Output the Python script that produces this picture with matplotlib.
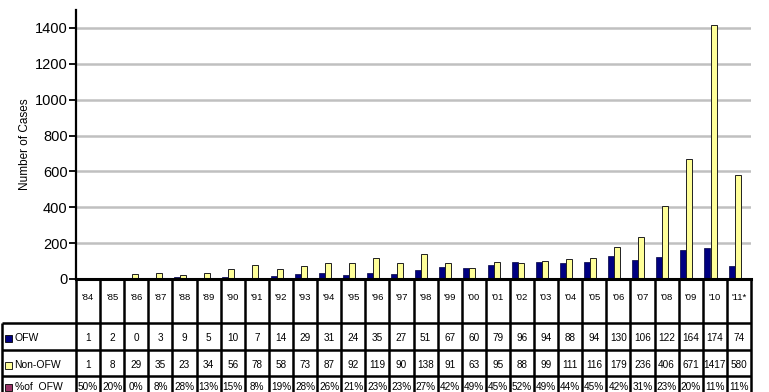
import numpy as np
import matplotlib.pyplot as plt

# cases per year
years = ["'84", "'85", "'86", "'87", "'88", "'89", "'90", "'91", "'92", "'93",
         "'94", "'95", "'96", "'97", "'98", "'99", "'00", "'01", "'02", "'03",
         "'04", "'05", "'06", "'07", "'08", "'09", "'10", "'11*"]
ofw = [1, 2, 0, 3, 9, 5, 10, 7, 14, 29, 31, 24, 35, 27, 51, 67, 60, 79, 96,
       94, 88, 94, 130, 106, 122, 164, 174, 74]
non_ofw = [1, 8, 29, 35, 23, 34, 56, 78, 58, 73, 87, 92, 119, 90, 138, 91,
           63, 95, 88, 99, 111, 116, 179, 236, 406, 671, 1417, 580]
pct_ofw = ["50%", "20%", "0%", "8%", "28%", "13%", "15%", "8%", "19%", "28%",
           "26%", "21%", "23%", "23%", "27%", "42%", "49%", "45%", "52%",
           "49%", "44%", "45%", "42%", "31%", "23%", "20%", "11%", "11%"]

row_names = ["OFW", "Non-OFW", "%of  OFW"]
row_colors = ["#000080", "#FFFF99", "#993366"]

plt.rcParams['font.family'] = ['Liberation Sans', 'DejaVu Sans']

W, H = 769, 392
fig = plt.figure(figsize=(W / 100, H / 100), dpi=100)

x0, x1 = 76, 751     # plot left / right (px)
y_top, y_zero = 10, 279


def fx(px):
    return px / W


def fy(py):
    return 1 - py / H


ax = fig.add_axes([fx(x0), fy(y_zero), fx(x1) - fx(x0), fy(y_top) - fy(y_zero)])
x = np.arange(len(years))
bw = 0.25
shift = -0.18
ax.bar(x + shift - bw / 2, ofw, bw, color=row_colors[0], edgecolor='#000040', lw=0.5, zorder=3)
ax.bar(x + shift + bw / 2, non_ofw, bw, color=row_colors[1], edgecolor='#202020', lw=0.7, zorder=3)

ax.set_xlim(-0.5, len(years) - 0.5)
ax.set_ylim(0, 1500)
ax.set_yticks(range(0, 1401, 200))
ax.tick_params(axis='y', labelsize=10.5, length=5, width=1.3, pad=1)
ax.set_xticks([])
ax.yaxis.grid(True, color='#c0c0c0', lw=1.8, zorder=0)
for s in ['top', 'right']:
    ax.spines[s].set_visible(False)
ax.spines['left'].set_linewidth(1.6)
ax.spines['bottom'].set_linewidth(2.2)
ax.spines['bottom'].set_zorder(5)
ax.set_ylabel('Number of Cases', fontsize=8.5, labelpad=3)

# data table under the chart, in pixel rows below the zero line
tax = fig.add_axes([fx(x0), 0, fx(x1) - fx(x0), fy(y_zero)])
tax.set_xlim(-0.5, len(years) - 0.5)
tax.set_ylim(H - y_zero, 0)
tax.axis('off')

rows_y = [44, 71, 97, 125]   # horizontal rule positions (px below zero line)
left = -0.5 - (x0 - 2) / ((x1 - x0) / len(years))
lw = 1.8
kw = dict(color='black', lw=lw, clip_on=False, solid_capstyle='butt')
for yy in rows_y:
    tax.plot([left, len(years) - 0.5], [yy, yy], **kw)
tax.plot([left, left], [rows_y[0], 130], **kw)
for i in range(len(years) + 1):
    tax.plot([i - 0.5, i - 0.5], [0, 130], **kw)

for i, yr in enumerate(years):
    tax.text(i, 19, yr, ha='center', va='center', fontsize=6.8)
    tax.text(i, 59, str(ofw[i]), ha='center', va='center', fontsize=7.2)
    tax.text(i, 86, str(non_ofw[i]), ha='center', va='center', fontsize=7.2)
    tax.text(i, 108, pct_ofw[i], ha='center', va='center', fontsize=7.2)

unit = (x1 - x0) / len(years)
for k, (name, col) in enumerate(zip(row_names, row_colors)):
    yc = [59, 86, 108][k]
    sx = left + 2.5 / unit
    tax.add_patch(plt.Rectangle((sx, yc - 3.5), 7 / unit, 7, facecolor=col,
                                edgecolor='black', lw=0.6, clip_on=False))
    tax.text(sx + 10 / unit, yc, name, ha='left', va='center', fontsize=7.5)

fig.savefig('out.png', dpi=100)
